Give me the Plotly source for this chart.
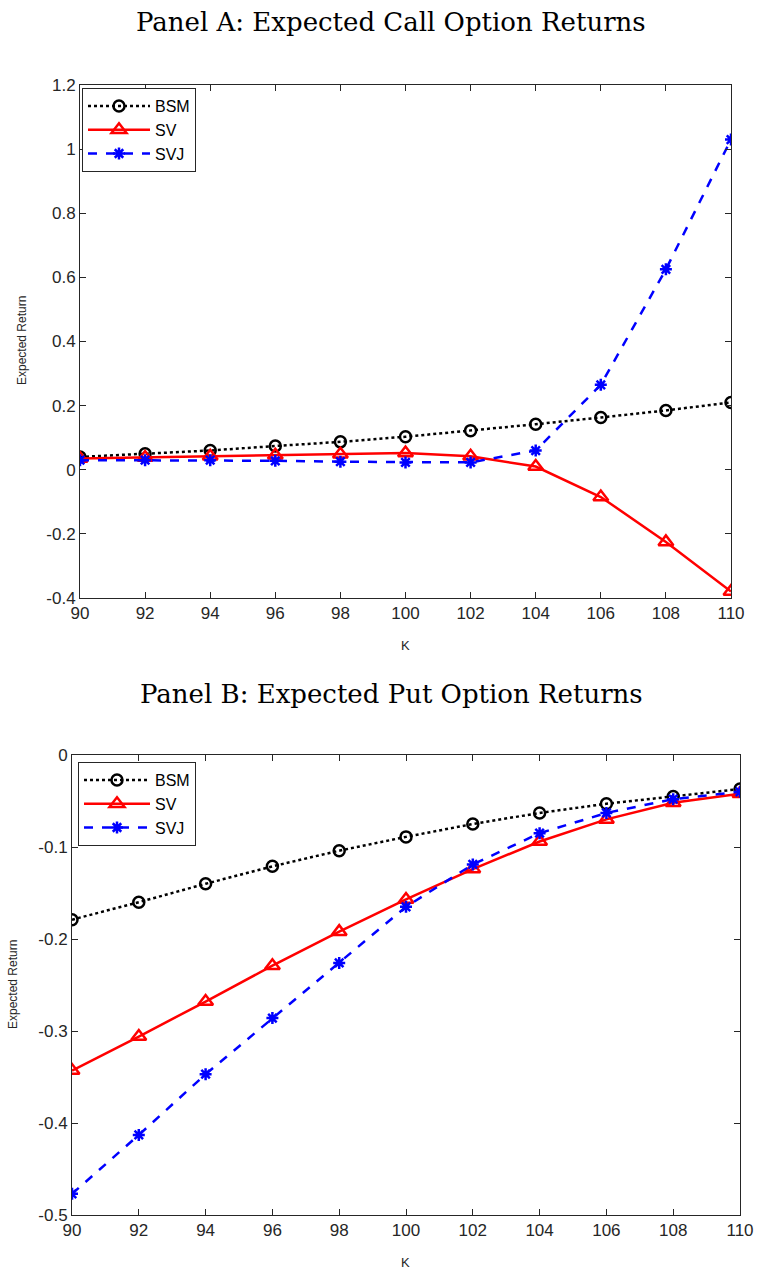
import plotly.graph_objects as go

K = [90, 92, 94, 96, 98, 100, 102, 104, 106, 108, 110]

call_bsm = [0.040, 0.050, 0.060, 0.074, 0.087, 0.103, 0.122, 0.142, 0.163, 0.185, 0.210]
call_sv = [0.035, 0.038, 0.042, 0.045, 0.048, 0.052, 0.042, 0.010, -0.085, -0.225, -0.380]
call_svj = [0.030, 0.030, 0.030, 0.028, 0.025, 0.023, 0.023, 0.060, 0.265, 0.625, 1.030]

put_bsm = [-0.179, -0.160, -0.140, -0.121, -0.104, -0.089, -0.075, -0.063, -0.053, -0.045, -0.037]
put_sv = [-0.343, -0.306, -0.268, -0.229, -0.192, -0.157, -0.124, -0.094, -0.070, -0.052, -0.042]
put_svj = [-0.477, -0.413, -0.347, -0.286, -0.226, -0.165, -0.119, -0.085, -0.063, -0.048, -0.040]

series_names = ["BSM", "SV", "SVJ"]

call_ticks = [-0.4, -0.2, 0, 0.2, 0.4, 0.6, 0.8, 1, 1.2]
call_ticktext = ["-0.4", "-0.2", "0", "0.2", "0.4", "0.6", "0.8", "1", "1.2"]
put_ticks = [-0.5, -0.4, -0.3, -0.2, -0.1, 0]
put_ticktext = ["-0.5", "-0.4", "-0.3", "-0.2", "-0.1", "0"]

W, H = 758, 1273

styles = [
    dict(color="black", dash="dot", symbol="circle-open", size=11),
    dict(color="#ff0000", dash="solid", symbol="triangle-up-open", size=13),
    dict(color="#0000ff", dash="dash", symbol="asterisk-open", size=10),
]

fig = go.Figure()

for data, xa, ya, lg in [
    ([call_bsm, call_sv, call_svj], "x", "y", "legend"),
    ([put_bsm, put_sv, put_svj], "x2", "y2", "legend2"),
]:
    for name, vals, st in zip(series_names, data, styles):
        fig.add_trace(go.Scatter(
            x=K, y=vals, name=name, mode="lines+markers",
            xaxis=xa, yaxis=ya, legend=lg,
            line=dict(color=st["color"], dash=st["dash"], width=2.5),
            marker=dict(symbol=st["symbol"], size=st["size"], color=st["color"],
                        line=dict(width=2.5, color=st["color"])),
        ))

def py(p):
    return 1 - p / H

def px(p):
    return p / W

axis_common = dict(
    showgrid=False, zeroline=False, showline=True, linecolor="#262626", linewidth=1,
    mirror="ticks", ticks="inside", ticklen=6, tickcolor="#262626", automargin=False,
    tickfont=dict(family="Liberation Sans, Arial", size=17, color="#262626"),
)

label_font = dict(family="Liberation Sans, Arial", size=12, color="#262626")
title_font = dict(family="DejaVu Serif, Liberation Serif", size=26, color="black")
legend_font = dict(family="Liberation Sans, Arial", size=16, color="black")

fig.update_layout(
    width=W, height=H,
    margin=dict(l=0, r=0, t=0, b=0, autoexpand=False),
    paper_bgcolor="white", plot_bgcolor="white",
    xaxis=dict(domain=[px(80), px(731)], range=[90, 110], tickvals=K, anchor="y", **axis_common),
    yaxis=dict(domain=[py(598), py(85)], range=[-0.4, 1.2], anchor="x",
               tickvals=call_ticks, ticktext=call_ticktext, **axis_common),
    xaxis2=dict(domain=[px(72), px(740)], range=[90, 110], tickvals=K, anchor="y2", **axis_common),
    yaxis2=dict(domain=[py(1215), py(755)], range=[-0.5, 0], anchor="x2",
                tickvals=put_ticks, ticktext=put_ticktext, **axis_common),
    legend=dict(x=px(82), y=py(88), xanchor="left", yanchor="top",
                bgcolor="white", bordercolor="#262626", borderwidth=1,
                font=legend_font, tracegroupgap=0, itemwidth=62),
    legend2=dict(x=px(78), y=py(762), xanchor="left", yanchor="top",
                 bgcolor="white", bordercolor="#262626", borderwidth=1,
                 font=legend_font, tracegroupgap=0, itemwidth=66),
    annotations=[
        dict(text="Panel A: Expected Call Option Returns", x=px(391), y=py(22),
             xref="paper", yref="paper", showarrow=False, xanchor="center", yanchor="middle",
             font=title_font),
        dict(text="Panel B: Expected Put Option Returns", x=px(391), y=py(694),
             xref="paper", yref="paper", showarrow=False, xanchor="center", yanchor="middle",
             font=title_font),
        dict(text="Expected Return", x=px(22), y=py(341), textangle=-90,
             xref="paper", yref="paper", showarrow=False, xanchor="center", yanchor="middle",
             font=label_font),
        dict(text="Expected Return", x=px(13), y=py(985), textangle=-90,
             xref="paper", yref="paper", showarrow=False, xanchor="center", yanchor="middle",
             font=label_font),
        dict(text="K", x=px(405), y=py(645),
             xref="paper", yref="paper", showarrow=False, xanchor="center", yanchor="middle",
             font=dict(family="Liberation Sans, Arial", size=13, color="#262626")),
        dict(text="K", x=px(405), y=py(1262),
             xref="paper", yref="paper", showarrow=False, xanchor="center", yanchor="middle",
             font=dict(family="Liberation Sans, Arial", size=13, color="#262626")),
    ],
)

# remove the browser's default 8px body margin so the figure fills the window exactly
fig.write_html("out.html",
               config={"displayModeBar": False},
               post_script="document.body.style.margin='0';document.body.style.overflow='hidden';")
